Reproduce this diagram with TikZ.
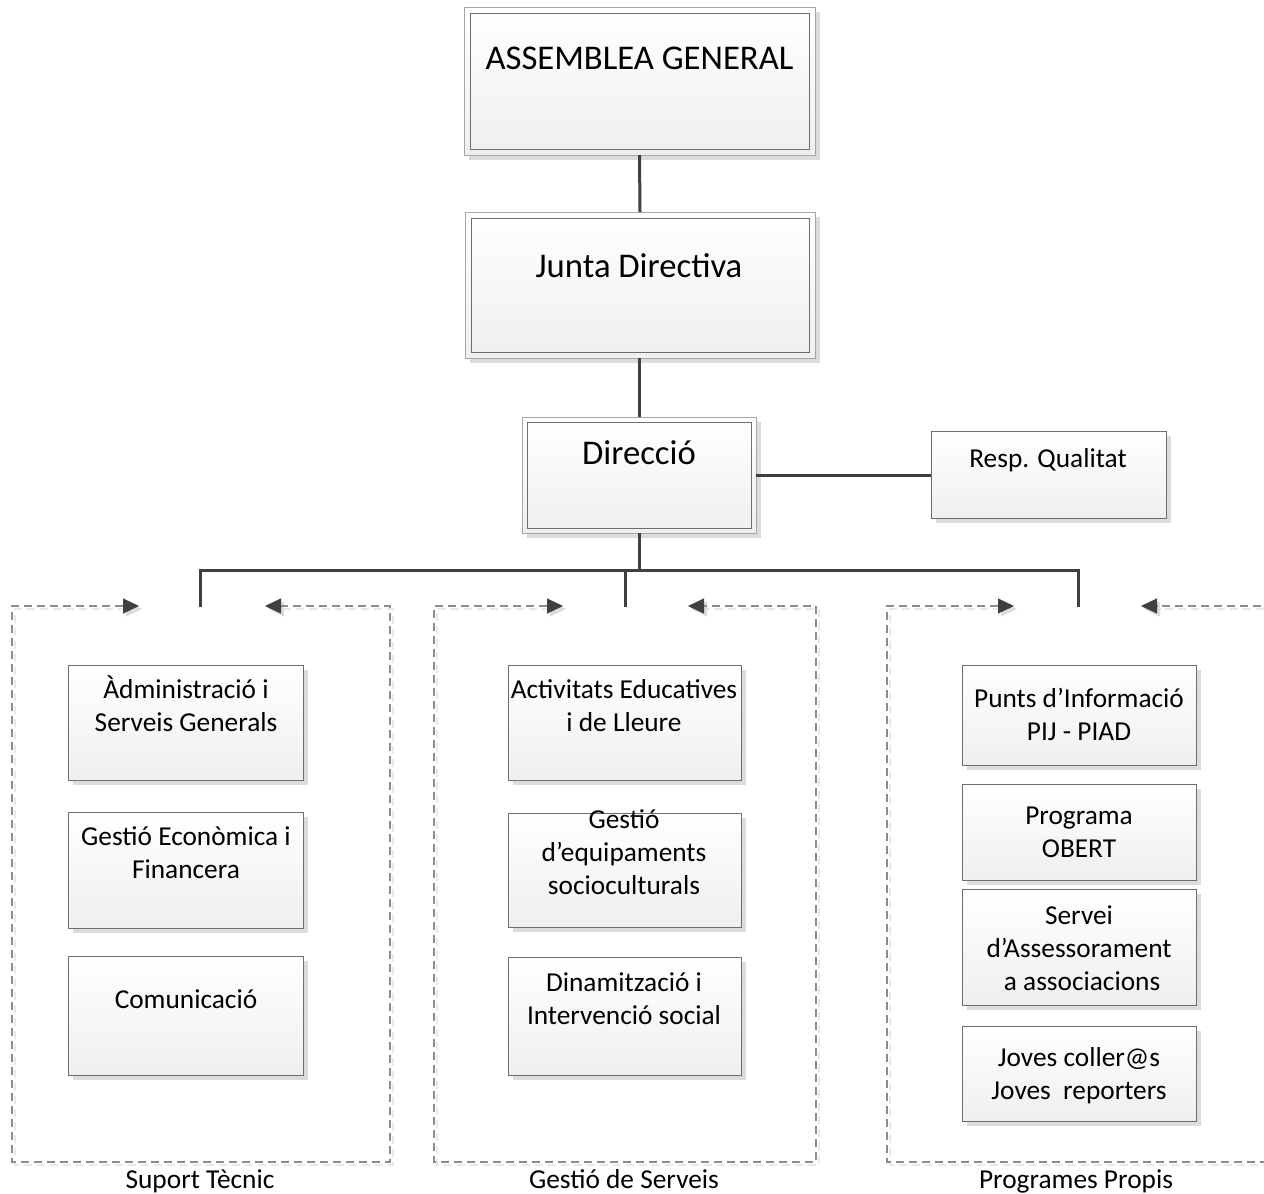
\documentclass[tikz,border=0pt]{standalone}
\usepackage{fontspec}
\setmainfont{Carlito}
\usetikzlibrary{arrows.meta,shadows}
\definecolor{conncol}{HTML}{404040}
\definecolor{bord}{HTML}{6E6E6E}
\definecolor{bordlt}{HTML}{A6A6A6}
\definecolor{shad}{HTML}{DCDCDC}
\definecolor{dashcol}{HTML}{8C8C8C}
\definecolor{dashsh}{HTML}{E8E8E8}
\definecolor{boxbot}{HTML}{EFEFEF}
\newcommand\mkbox[6]{\node[#1, minimum width={(#5-#3)*0.75pt}, minimum height={(#6-#4)*0.75pt}] (#2) at ({(#3+#5)/2},{(#4+#6)/2}) {};}
\newcommand\mkinner[2]{\draw[innerline] ([shift={(#2,#2)}]#1.north west) rectangle ([shift={(-#2,-#2)}]#1.south east);}
\newcommand\mkcont[6]{%
  \draw[contshadow] ([shift={(3,3)}]#5,#2) -- ([shift={(3,3)}]#1,#2) -- ([shift={(3,3)}]#1,#4) -- ([shift={(3,3)}]#3,#4) -- ([shift={(3,3)}]#3,#2) -- ([shift={(3,3)}]#6,#2);
  \draw[cont] (#5,#2) -- (#1,#2) -- (#1,#4) -- (#3,#4) -- (#3,#2) -- (#6,#2);}
\begin{document}
\begin{tikzpicture}[x=0.75pt,y=-0.75pt,
  boxs/.style={draw=bord, line width=0.75pt, top color=white, bottom color=boxbot,
    inner sep=0pt, outer sep=0pt,
    drop shadow={shadow xshift=3.75pt, shadow yshift=-3.75pt, fill=shad, opacity=1}},
  dbox/.style={boxs, draw=bordlt},
  innerline/.style={draw=bord, line width=0.75pt},
  txt/.style={font=\fontsize{20.5}{24.4}\selectfont, align=center, inner sep=0pt, anchor=base},
  bigtxt/.style={font=\fontsize{26}{31}\selectfont, inner sep=0pt, anchor=base},
  connline/.style={draw=conncol, line width=2.25pt},
  cont/.style={draw=dashcol, line width=0.9pt, dash pattern=on 6pt off 3.75pt,
    {Triangle[length=12pt,width=11.25pt,color=conncol]}-{Triangle[length=12pt,width=11.25pt,color=conncol]}},
  contshadow/.style={draw=dashsh, line width=0.9pt, dash pattern=on 6pt off 3.75pt,
    {Triangle[length=12pt,width=11.25pt,color=shad]}-{Triangle[length=12pt,width=11.25pt,color=shad]}},
]
\useasboundingbox (0,0) rectangle (1264,1193);
\fill[white] (0,0) rectangle (1264,1193);
\clip (0,0) rectangle (1264,1193);

% containers
\mkcont{12}{606}{390}{1162}{139}{265}
\mkcont{434}{606}{816}{1162}{563}{688}
\mkcont{887}{606}{1275}{1162}{1014}{1141}

% top boxes
\mkbox{dbox}{ag}{464}{7}{815}{155}
\mkinner{ag}{6}
\mkbox{dbox}{jd}{465}{212}{815}{358}
\mkinner{jd}{6}
\mkbox{dbox}{dir}{522}{417}{756}{533}
\mkinner{dir}{5}
\mkbox{boxs}{resp}{931}{431}{1166}{518}

\node[bigtxt] (tag) at (639.5,69) {ASSEMBLEA GENERAL};
\node[bigtxt] (tjd) at (639,277) {Junta Directiva};
\node[bigtxt] (tdir) at (639,464) {Direcció};
\node[txt] (tresp) at (1048,467) {Resp. Qualitat};

% connectors
\draw[connline] (ag.south) -- (jd.north);
\draw[connline] (dir.north |- jd.south) -- (dir.north);
\draw[connline] (dir.east) -- (dir.east -| resp.west);
\coordinate (bus) at (639,570);
\coordinate (d1) at (200,607);
\coordinate (d2) at (625,607);
\coordinate (d3) at (1078,607);
\draw[connline] (dir.south) -- (bus);
\draw[connline] (d1) -- (d1 |- bus) -- (d3 |- bus) -- (d3);
\draw[connline] (d2 |- bus) -- (d2);

% left column
\mkbox{boxs}{a1}{68}{665}{303}{780}
\mkbox{boxs}{a2}{68}{812}{303}{928}
\mkbox{boxs}{a3}{68}{956}{303}{1075}
\node[txt] (ta1) at (186,731) {Àdministració i\\Serveis Generals};
\node[txt] (ta2) at (186,878) {Gestió Econòmica i\\Financera};
\node[txt] (ta3) at (186,1008) {Comunicació};

% middle column
\mkbox{boxs}{b1}{508}{665}{741}{780}
\mkbox{boxs}{b2}{508}{813}{741}{927}
\mkbox{boxs}{b3}{508}{957}{741}{1075}
\node[txt] (tb1) at (624,731) {Activitats Educatives\\i de Lleure};
\node[txt] (tb2) at (624,894) {Gestió\\d’equipaments\\socioculturals};
\node[txt] (tb3) at (624,1024) {Dinamització i\\Intervenció social};

% right column
\mkbox{boxs}{c1}{962}{665}{1196}{765}
\mkbox{boxs}{c2}{962}{784}{1196}{880}
\mkbox{boxs}{c3}{962}{889}{1196}{1005}
\mkbox{boxs}{c4}{962}{1026}{1196}{1121}
\node[txt] (tc1) at (1079,740) {Punts d’Informació\\PIJ - PIAD};
\node[txt] (tc2) at (1079,857) {Programa\\OBERT};
\node[txt] (tc3) at (1079,990) {Servei\\d’Assessorament\\\ a associacions};
\node[txt] (tc4) at (1079,1099) {Joves coller@s\\Joves\ \ reporters};

% group labels
\node[txt] (l1) at (200,1188) {Suport Tècnic};
\node[txt] (l2) at (624,1188) {Gestió de Serveis};
\node[txt] (l3) at (1076,1188) {Programes Propis};
\end{tikzpicture}
\end{document}
